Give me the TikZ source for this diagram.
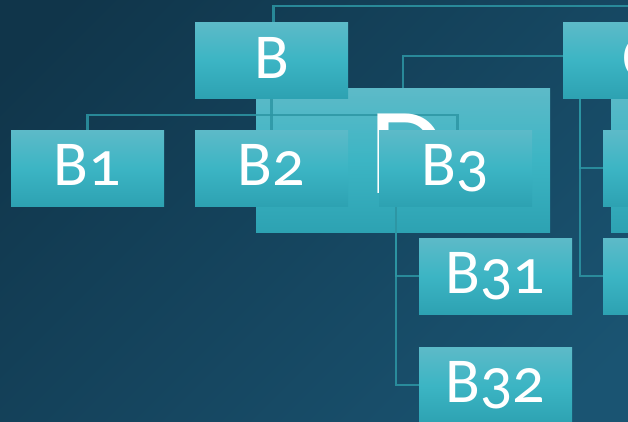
\documentclass[tikz,border=0pt]{standalone}
\usepackage{fontspec}
\setmainfont{Carlito}[Numbers=OldStyle]
\definecolor{bgtop}{RGB}{16,53,74}
\definecolor{bgbot}{RGB}{26,84,114}
\definecolor{boxtop}{RGB}{93,186,200}
\definecolor{boxmid}{RGB}{60,181,196}
\definecolor{boxbot}{RGB}{45,162,178}
\definecolor{linkc}{RGB}{45,150,164}
\pgfdeclarelayer{back}
\pgfdeclarelayer{mid}
\pgfsetlayers{back,mid,main}
\tikzset{
  box/.style={anchor=north west, inner sep=0pt, outer sep=0pt,
    top color=boxtop, bottom color=boxbot, middle color=boxmid,
    minimum width=153pt, minimum height=76pt},
  bigbox/.style={box, minimum width=294pt, minimum height=144pt},
  lbl/.style={anchor=base, text=white, inner sep=0pt,
    font=\fontsize{64}{64}\selectfont},
  biglbl/.style={lbl, font=\fontsize{124}{124}\selectfont},
  link/.style={draw=linkc, draw opacity=0.85, line width=2.2pt}
}
\begin{document}
\begin{tikzpicture}[x=1pt,y=-1pt]
\useasboundingbox (0,0) rectangle (628,421);
\clip (0,0) rectangle (628,421);
\begin{pgfonlayer}{back}
\path[shade, top color=bgtop, bottom color=bgbot, shading angle=45]
  (-60,-60) rectangle (690,480);
\node[bigbox] (D) at (256,88) {};
\node[bigbox] (E) at (611,88) {};
\end{pgfonlayer}
% small boxes
\node[box] (B) at (195,22) {};
\node[box] (C) at (563,22) {};
\node[box] (B1) at (11,130) {};
\node[box] (B2) at (195,130) {};
\node[box] (B3) at (379,130) {};
\node[box] (B31) at (419,238) {};
\node[box] (B32) at (419,347) {};
\node[box] (C1) at (603,130) {};
\node[box] (C2) at (603,238) {};
% labels
\node[lbl] (Bt) at ([yshift=-56pt]B.north) {B};
\node[lbl] (Ct) at ([yshift=-56pt]C.north) {C};
\node[lbl] (B1t) at ([yshift=-55pt]B1.north) {B1};
\node[lbl] (B2t) at ([yshift=-55pt]B2.north) {B2};
\node[lbl] (B3t) at ([yshift=-55pt]B3.north) {B3};
\node[lbl] (B31t) at ([yshift=-55pt]B31.north) {B31};
\node[lbl] (B32t) at ([yshift=-55pt]B32.north) {B32};
% connectors and big label
\coordinate (top) at (700,6);
\coordinate (bus) at (0,115);
\begin{pgfonlayer}{mid}
\draw[link] ([xshift=2pt]B.north) |- (top);
\draw[link] (B.south) -- (B2.north);
\draw[link] (B1.north) |- ([xshift=2pt]B3.north |- bus) -- ([xshift=2pt]B3.north);
\draw[link] (D.north) |- ([yshift=4pt]C.west);
\draw[link] ([xshift=17pt]B3.south west) |- (B31.west);
\draw[link] ([xshift=17pt]B3.south west) |- (B32.west);
\draw[link] ([xshift=17pt]C.south west) |- (C1.west);
\draw[link] ([xshift=17pt]C.south west) |- (C2.west);
\node[biglbl] (Dt) at ([xshift=5pt,yshift=-105pt]D.north) {D};
\end{pgfonlayer}
\end{tikzpicture}
\end{document}
